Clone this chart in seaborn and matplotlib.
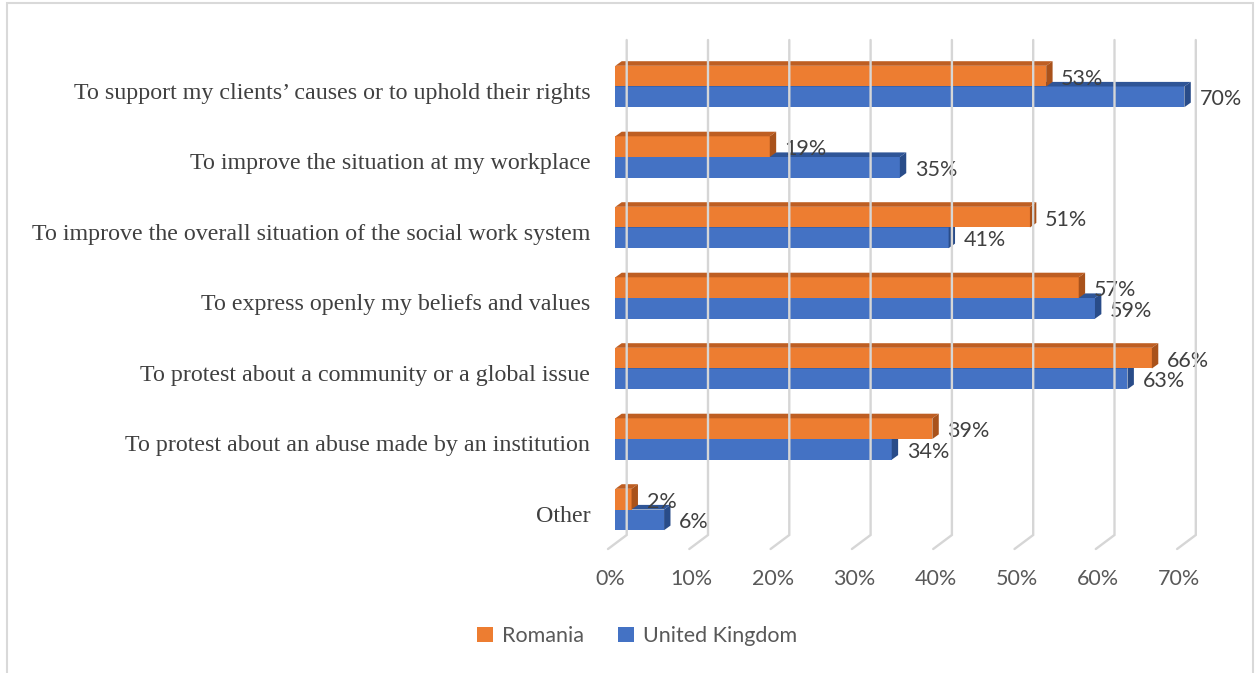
import matplotlib
matplotlib.use("Agg")
import matplotlib.pyplot as plt
import matplotlib.transforms as mtransforms
from matplotlib.patches import Polygon, Patch, Rectangle
from matplotlib.lines import Line2D
import numpy as np
import pandas as pd
import seaborn as sns

# --- data -------------------------------------------------------------
categories = [
    "To support my clients\u2019 causes or to uphold their rights",
    "To improve the situation at my workplace",
    "To improve the overall situation of the social work system",
    "To express openly my beliefs and values",
    "To protest about a community or a global issue",
    "To protest about an abuse made by an institution",
    "Other",
]
romania = [53, 19, 51, 57, 66, 39, 2]
united_kingdom = [70, 35, 41, 59, 63, 34, 6]
series_names = ["Romania", "United Kingdom"]
x_ticks = [0, 10, 20, 30, 40, 50, 60, 70]

df = pd.DataFrame({
    "category": categories * 2,
    "value": romania + united_kingdom,
    "country": [series_names[0]] * len(categories) + [series_names[1]] * len(categories),
})

# --- style ------------------------------------------------------------
sns.set_theme(style="white")
SANS = ["Lato", "DejaVu Sans"]
SERIF = ["Liberation Serif", "DejaVu Serif"]
plt.rcParams["font.family"] = SANS

W, H, DPI = 1255, 673, 100
PT = 72 / DPI  # points per pixel
front = {"Romania": "#ED7D31", "United Kingdom": "#4472C4"}
top_col = {"Romania": "#BE5E22", "United Kingdom": "#2F5597"}
side_col = {"Romania": "#A9521B", "United Kingdom": "#294C89"}

fig = plt.figure(figsize=(W / DPI, H / DPI), dpi=DPI)
fig.patch.set_facecolor("white")

# plot region in pixels (front plane of the bars)
x0_px, x70_px = 615.3, 1184.4
top_px, bot_px = 40, 535
ax = fig.add_axes([x0_px / W, 1 - bot_px / H, (x70_px - x0_px) / W, (bot_px - top_px) / H])

sns.barplot(data=df, y="category", x="value", hue="country", orient="h",
            palette=front, width=0.587, saturation=1, ax=ax, legend=False,
            linewidth=0)

ax.set_xlim(0, 70)
row_px0, row_step = 86.5, 70.5
ax.set_ylim((bot_px - row_px0) / row_step, (top_px - row_px0) / row_step)
for s in ax.spines.values():
    s.set_visible(False)
ax.set_xlabel("")
ax.set_ylabel("")
ax.grid(False)

# ticks
ax.set_xticks(x_ticks)
ax.set_xticklabels([f"{t}%" for t in x_ticks], fontsize=15.5, color="#595959", family=SANS)
ax.tick_params(axis="x", length=0, pad=34 * PT)
ax.tick_params(axis="y", length=0, pad=25 * PT)
for lab in ax.get_yticklabels():
    lab.set_fontfamily(SERIF)
    lab.set_fontsize(17.3)
    lab.set_color("#404040")
    lab.set_transform(lab.get_transform() + mtransforms.ScaledTranslation(0, -4.5 / DPI, fig.dpi_scale_trans))
for lab in ax.get_xticklabels():
    lab.set_transform(lab.get_transform() + mtransforms.ScaledTranslation(-5 / DPI, 0, fig.dpi_scale_trans))

ident = mtransforms.IdentityTransform()

# back-wall gridlines with floor segment
for t in x_ticks:
    xf = ax.transData.transform((t, 0))[0]
    xb = xf + 11.4
    ln = Line2D([xb, xb, xf - 7.3], [H - top_px, H - bot_px, H - 549],
                transform=ident, color="#D6D6D6", lw=1.7, zorder=0.5,
                solid_joinstyle="miter", clip_on=False)
    fig.add_artist(ln)

# 3D faces of bars
dx, dy = 6.4, 4.6
n = len(categories)
patches = list(ax.patches)
for i, p in enumerate(patches):
    name = series_names[0] if i < n else series_names[1]
    z = 4 if name == "Romania" else 3
    p.set_zorder(z)
    xa, ya = p.get_x(), p.get_y()
    xb_, yb = xa + p.get_width(), ya + p.get_height()
    (X0, Yb), (X1, Yt) = ax.transData.transform([(xa, yb), (xb_, ya)])
    # y axis is inverted, so ya maps to the upper edge
    top = Polygon([(X0, Yt), (X1, Yt), (X1 + dx, Yt + dy), (X0 + dx, Yt + dy)],
                  closed=True, transform=ident, facecolor=top_col[name],
                  edgecolor="none", zorder=z, clip_on=False)
    side = Polygon([(X1, Yb), (X1, Yt), (X1 + dx, Yt + dy), (X1 + dx, Yb + dy)],
                   closed=True, transform=ident, facecolor=side_col[name],
                   edgecolor="none", zorder=z, clip_on=False)
    ax.add_patch(top)
    ax.add_patch(side)
    # value label
    val = romania[i] if i < n else united_kingdom[i - n]
    ax.text(X1 + 15, (Yt + Yb) / 2 - 2.5, f"{val}%", transform=ident, ha="left",
            va="center", fontsize=15.5, color="#404040", family=SANS,
            zorder=6, clip_on=False)

# legend
handles = [Patch(facecolor=front[s], edgecolor="none") for s in series_names]
fig.legend(handles, series_names, loc="center", bbox_to_anchor=(637 / W, 1 - 636 / H),
           ncol=2, frameon=False, handlelength=0.75, handleheight=0.75,
           handletextpad=0.4, columnspacing=1.6,
           prop={"family": SANS, "size": 15.5}, labelcolor="#595959")

# chart frame
fig.add_artist(Rectangle((7 / W, -0.05), (1253 - 7) / W, 1.05 - 3 / H,
                         transform=fig.transFigure, fill=False,
                         edgecolor="#D9D9D9", lw=1.5, zorder=0))

fig.savefig("out.png", dpi=DPI, facecolor="white")
